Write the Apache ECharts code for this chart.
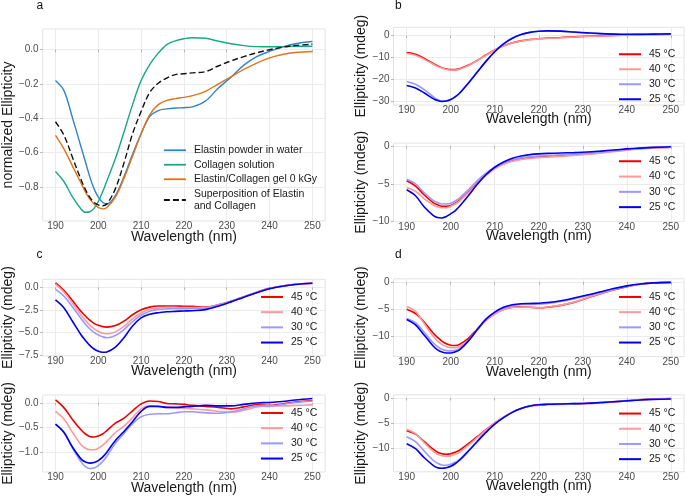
<!DOCTYPE html>
<html><head><meta charset="utf-8">
<script src="https://cdn.jsdelivr.net/npm/echarts@6/dist/echarts.min.js"></script>
<style>html,body{margin:0;padding:0;background:#fff}#c{width:685px;height:497px}</style>
</head><body><div id="c"></div><script>
// ---------------- DATA ----------------
const wavelength = [190,192,194,196,197,198,199,200,201,202,204,206,208,210,212,214,216,218,220,222,225,228,231,234,237,240,243,246,250];
const xTicks = [190,200,210,220,230,240,250];

// panel a
const aNames = ['Elastin powder in water','Collagen solution','Elastin/Collagen gel 0 kGy','Superposition of Elastin\nand Collagen'];
const aElastin  = [-0.18,-0.24,-0.40,-0.57,-0.655,-0.74,-0.81,-0.86,-0.89,-0.90,-0.85,-0.74,-0.61,-0.49,-0.39,-0.355,-0.345,-0.34,-0.338,-0.333,-0.30,-0.225,-0.16,-0.09,-0.04,-0.01,0.015,0.035,0.048];
const aCollagen = [-0.71,-0.77,-0.86,-0.93,-0.948,-0.945,-0.925,-0.885,-0.83,-0.765,-0.635,-0.48,-0.32,-0.18,-0.087,-0.02,0.03,0.052,0.064,0.07,0.067,0.05,0.035,0.024,0.018,0.017,0.018,0.02,0.02];
const aGel      = [-0.50,-0.58,-0.68,-0.78,-0.83,-0.87,-0.90,-0.92,-0.928,-0.92,-0.86,-0.75,-0.62,-0.49,-0.38,-0.32,-0.295,-0.285,-0.278,-0.268,-0.243,-0.20,-0.158,-0.115,-0.078,-0.048,-0.028,-0.016,-0.01];
const aSuper    = [-0.42,-0.50,-0.63,-0.76,-0.815,-0.86,-0.89,-0.905,-0.91,-0.90,-0.81,-0.66,-0.49,-0.36,-0.25,-0.195,-0.165,-0.145,-0.14,-0.135,-0.128,-0.095,-0.065,-0.04,-0.018,0.0,0.015,0.025,0.032];
const aYTicks = [-0.8,-0.6,-0.4,-0.2,0.0];

const tempNames = ['45 °C','40 °C','30 °C','25 °C'];

// panel b (top)
const bTop45 = [-7.8,-8.6,-10.5,-12.8,-13.8,-14.7,-15.3,-15.6,-15.6,-15.2,-13.6,-11.4,-8.9,-6.6,-4.7,-3.3,-2.4,-1.8,-1.4,-1.15,-0.85,-0.55,-0.3,-0.1,0.1,0.3,0.45,0.55,0.65];
const bTop40 = [-8.2,-9.0,-10.9,-13.1,-14.1,-14.9,-15.5,-15.8,-15.8,-15.4,-13.8,-11.5,-9.0,-6.7,-4.8,-3.4,-2.5,-1.9,-1.5,-1.25,-0.95,-0.65,-0.4,-0.2,0.0,0.2,0.4,0.5,0.6];
const bTop30 = [-21.0,-22.3,-24.8,-28.0,-29.3,-30.0,-30.0,-29.3,-28.1,-26.4,-21.8,-16.8,-11.8,-7.4,-3.8,-1.2,0.5,1.5,2.0,2.2,2.0,1.6,1.2,0.9,0.65,0.55,0.6,0.7,0.8];
const bTop25 = [-22.9,-24.0,-26.3,-28.9,-29.8,-30.2,-30.0,-29.3,-28.1,-26.4,-21.8,-16.8,-11.8,-7.4,-3.8,-1.2,0.5,1.5,2.0,2.2,2.05,1.65,1.25,0.9,0.7,0.6,0.6,0.7,0.8];
const bTopYTicks = [-30,-20,-10,0];

// panel b (bottom)
const bBot45 = [-4.6,-5.3,-6.5,-7.5,-7.8,-8.0,-8.0,-7.9,-7.6,-7.2,-6.1,-4.9,-3.8,-2.9,-2.3,-1.9,-1.65,-1.5,-1.4,-1.32,-1.22,-1.1,-0.98,-0.82,-0.62,-0.45,-0.3,-0.2,-0.12];
const bBot40 = [-5.5,-6.0,-7.0,-7.8,-8.1,-8.2,-8.2,-8.0,-7.7,-7.3,-6.2,-5.0,-3.9,-3.0,-2.4,-2.0,-1.78,-1.62,-1.52,-1.45,-1.35,-1.22,-1.1,-0.92,-0.72,-0.52,-0.36,-0.25,-0.16];
const bBot30 = [-4.4,-5.0,-6.2,-7.2,-7.5,-7.7,-7.7,-7.6,-7.3,-6.9,-5.8,-4.6,-3.6,-2.8,-2.2,-1.8,-1.55,-1.4,-1.3,-1.24,-1.15,-1.05,-0.95,-0.8,-0.6,-0.42,-0.28,-0.16,-0.06];
const bBot25 = [-5.8,-6.6,-8.1,-9.2,-9.5,-9.55,-9.35,-9.0,-8.6,-8.0,-6.6,-5.1,-3.8,-2.8,-2.1,-1.6,-1.3,-1.12,-1.02,-0.96,-0.9,-0.85,-0.78,-0.65,-0.5,-0.36,-0.25,-0.15,-0.08];
const bBotYTicks = [-10,-5,0];

// panel c (top)
const cTop45 = [0.5,-0.35,-1.5,-2.7,-3.2,-3.65,-4.0,-4.22,-4.37,-4.42,-4.25,-3.75,-3.05,-2.5,-2.2,-2.08,-2.07,-2.08,-2.1,-2.12,-2.2,-1.95,-1.55,-1.05,-0.55,-0.12,0.15,0.33,0.45];
const cTop40 = [0.35,-0.55,-1.8,-3.1,-3.7,-4.2,-4.6,-4.9,-5.1,-5.15,-4.95,-4.35,-3.5,-2.85,-2.45,-2.3,-2.25,-2.25,-2.25,-2.25,-2.25,-1.98,-1.57,-1.07,-0.57,-0.14,0.13,0.32,0.44];
const cTop30 = [-0.2,-1.0,-2.2,-3.5,-4.1,-4.6,-5.0,-5.3,-5.5,-5.6,-5.35,-4.7,-3.8,-3.1,-2.65,-2.45,-2.4,-2.38,-2.37,-2.36,-2.32,-2.0,-1.58,-1.08,-0.58,-0.15,0.12,0.31,0.44];
const cTop25 = [-1.4,-2.3,-3.8,-5.3,-5.9,-6.45,-6.85,-7.1,-7.22,-7.18,-6.65,-5.6,-4.3,-3.4,-3.0,-2.82,-2.72,-2.67,-2.63,-2.6,-2.48,-2.1,-1.62,-1.1,-0.6,-0.16,0.12,0.31,0.44];
const cTopYTicks = [-7.5,-5.0,-2.5,0.0];

// panel c (bottom)
const cBot45 = [0.06,-0.1,-0.34,-0.55,-0.63,-0.68,-0.69,-0.67,-0.63,-0.56,-0.41,-0.31,-0.16,-0.02,0.04,0.03,-0.01,-0.02,-0.03,-0.05,-0.07,-0.09,-0.12,-0.08,-0.04,-0.05,-0.02,0.02,0.05];
const cBot40 = [-0.17,-0.33,-0.6,-0.85,-0.92,-0.95,-0.95,-0.92,-0.86,-0.78,-0.6,-0.47,-0.3,-0.12,-0.06,-0.07,-0.09,-0.1,-0.11,-0.12,-0.14,-0.17,-0.19,-0.15,-0.08,-0.06,-0.06,-0.05,-0.04];
const cBot30 = [-0.43,-0.6,-0.92,-1.2,-1.29,-1.33,-1.32,-1.27,-1.19,-1.08,-0.82,-0.62,-0.42,-0.28,-0.23,-0.22,-0.22,-0.2,-0.18,-0.18,-0.2,-0.21,-0.18,-0.12,-0.06,-0.07,-0.03,0.01,0.04];
const cBot25 = [-0.43,-0.6,-0.9,-1.14,-1.2,-1.22,-1.21,-1.17,-1.1,-1.0,-0.76,-0.58,-0.38,-0.17,-0.07,-0.07,-0.09,-0.09,-0.08,-0.07,-0.05,-0.06,-0.06,-0.03,0.0,0.01,0.03,0.06,0.09];
const cBotYTicks = [-1.0,-0.5,0.0];

// panel d (top)
const dTop45 = [-5.0,-5.8,-7.4,-9.4,-10.2,-10.9,-11.4,-11.65,-11.7,-11.5,-10.4,-8.7,-7.05,-5.85,-5.05,-4.65,-4.55,-4.65,-4.75,-4.65,-4.3,-3.75,-2.95,-2.15,-1.45,-0.85,-0.4,-0.15,-0.05];
const dTop40 = [-4.5,-5.4,-7.7,-10.0,-10.9,-11.5,-11.9,-12.1,-12.1,-11.9,-10.8,-8.9,-7.05,-5.85,-5.05,-4.7,-4.6,-4.65,-4.7,-4.6,-4.25,-3.7,-2.9,-2.1,-1.4,-0.8,-0.4,-0.15,-0.05];
const dTop30 = [-6.7,-7.5,-9.3,-11.2,-11.9,-12.4,-12.65,-12.7,-12.6,-12.3,-10.8,-8.8,-6.9,-5.65,-4.8,-4.35,-4.15,-4.12,-4.1,-3.95,-3.6,-3.1,-2.5,-1.9,-1.3,-0.8,-0.4,-0.18,-0.05];
const dTop25 = [-6.9,-7.9,-9.8,-11.8,-12.5,-12.9,-13.1,-13.1,-12.9,-12.5,-10.9,-8.8,-6.85,-5.55,-4.65,-4.2,-4.0,-3.95,-3.9,-3.78,-3.45,-2.95,-2.4,-1.8,-1.2,-0.7,-0.35,-0.15,-0.05];
const dTopYTicks = [-10,-5,0];

// panel d (bottom)
const dBot45 = [-6.5,-7.2,-8.7,-10.2,-10.8,-11.1,-11.2,-11.1,-10.8,-10.4,-9.1,-7.7,-6.3,-5.0,-3.8,-2.8,-2.1,-1.6,-1.35,-1.25,-1.2,-1.15,-1.1,-0.95,-0.8,-0.6,-0.35,-0.2,-0.1];
const dBot40 = [-6.2,-7.1,-8.9,-10.6,-11.2,-11.5,-11.6,-11.5,-11.2,-10.8,-9.4,-7.9,-6.4,-5.0,-3.8,-2.8,-2.1,-1.65,-1.45,-1.35,-1.3,-1.2,-1.1,-0.9,-0.7,-0.5,-0.3,-0.15,-0.05];
const dBot30 = [-7.7,-8.7,-10.6,-12.4,-13.0,-13.35,-13.4,-13.2,-12.8,-12.2,-10.5,-8.6,-6.8,-5.2,-3.9,-2.85,-2.1,-1.6,-1.35,-1.25,-1.18,-1.12,-1.05,-0.9,-0.75,-0.55,-0.35,-0.25,-0.2];
const dBot25 = [-9.1,-10.1,-11.9,-13.4,-13.9,-14.0,-13.9,-13.6,-13.1,-12.4,-10.6,-8.7,-6.85,-5.2,-3.9,-2.85,-2.1,-1.6,-1.35,-1.25,-1.18,-1.12,-1.05,-0.9,-0.75,-0.55,-0.38,-0.27,-0.2];
const dBotYTicks = [-10,-5,0];

// ---------------- STYLE / LAYOUT ----------------
const FONT = 'Liberation Sans, Arial, sans-serif';
const aColors = ['#2f86c8','#17a884','#e2711d','#111111'];
const tColors = ['#ee0000','#ff9999','#9999ff','#0000ee'];

const panels = [
  {key:'a', left:33.7, top:29,   width:291.5, height:192, xGap:9.5, yTicks:aYTicks, dec:1, yName:'normalized Ellipticity',
   series:[aElastin,aCollagen,aGel,aSuper], names:aNames, colors:aColors, dashed:[false,false,false,true],
   legend:{left:163, top:144, gap:2}},
  {key:'bt', left:393.5, top:27.3, width:290.5, height:77.7, xGap:7.5, yTicks:bTopYTicks, dec:0, yName:'Ellipticity (mdeg)',
   series:[bTop45,bTop40,bTop30,bTop25], names:tempNames, colors:tColors, legend:{left:618, top:48, gap:2.5}},
  {key:'bb', left:393.5, top:143.1, width:290.5, height:78.4, xGap:7.5, yTicks:bBotYTicks, dec:0, yName:'Ellipticity (mdeg)',
   series:[bBot45,bBot40,bBot30,bBot25], names:tempNames, colors:tColors, legend:{left:618, top:155, gap:2.8}},
  {key:'ct', left:33.7, top:279.3, width:291.5, height:76.5, xGap:8.5, yTicks:cTopYTicks, dec:1, yName:'Ellipticity (mdeg)',
   series:[cTop45,cTop40,cTop30,cTop25], names:tempNames, colors:tColors, legend:{left:260, top:290.7, gap:2.7}},
  {key:'cb', left:33.7, top:395, width:291.5, height:77, xGap:9, yTicks:cBotYTicks, dec:1, yName:'Ellipticity (mdeg)',
   series:[cBot45,cBot40,cBot30,cBot25], names:tempNames, colors:tColors, legend:{left:260, top:406.7, gap:2.7}},
  {key:'dt', left:393.5, top:278.8, width:290.5, height:77.8, xGap:8.5, yTicks:dTopYTicks, dec:0, yName:'Ellipticity (mdeg)',
   series:[dTop45,dTop40,dTop30,dTop25], names:tempNames, colors:tColors, legend:{left:618, top:290.7, gap:2.7}},
  {key:'db', left:393.5, top:394.8, width:290.5, height:77, xGap:7.5, yTicks:dBotYTicks, dec:0, yName:'Ellipticity (mdeg)',
   series:[dBot45,dBot40,dBot30,dBot25], names:tempNames, colors:tColors, legend:{left:618, top:407.3, gap:2.7}}
];

const grid=[], xAxis=[], yAxis=[], series=[], legend=[];
const fmt = (v,d) => { const s = Math.abs(v).toFixed(d); return (v < -1e-9 ? '\u2212' : '') + s; };

panels.forEach((p,i) => {
  grid.push({left:p.left, top:p.top, width:p.width, height:p.height, show:true,
             borderColor:'#e3e3e3', borderWidth:1, backgroundColor:'#fff', containLabel:false});
  xAxis.push({type:'value', gridIndex:i,
    min: v => v.min - 0.05*(v.max-v.min), max: v => v.max + 0.05*(v.max-v.min),
    name:'Wavelength (nm)', nameLocation:'middle', nameGap:p.xGap, nameMoveOverlap:false,
    nameTextStyle:{fontFamily:FONT, fontSize:14, color:'#1a1a1a'},
    axisLine:{show:false},
    axisTick:{show:true, length:2.5, lineStyle:{color:'#b3b3b3'}, customValues:xTicks},
    axisLabel:{customValues:xTicks, fontFamily:FONT, fontSize:10, lineHeight:10, color:'#4d4d4d', margin:0.5,
               showMinLabel:true, showMaxLabel:true},
    splitLine:{show:true, lineStyle:{color:'#ebebeb', width:1}}
  });
  yAxis.push({type:'value', gridIndex:i,
    min: v => v.min - 0.05*(v.max-v.min), max: v => v.max + 0.05*(v.max-v.min),
    name:p.yName, nameLocation:'middle', nameGap:16, nameRotate:90,
    nameTextStyle:{fontFamily:FONT, fontSize:14, color:'#1a1a1a'},
    axisLine:{show:false},
    axisTick:{show:true, length:2.5, lineStyle:{color:'#b3b3b3'}, customValues:p.yTicks},
    axisLabel:{customValues:p.yTicks, fontFamily:FONT, fontSize:10, color:'#4d4d4d', margin:4,
               showMinLabel:true, showMaxLabel:true, hideOverlap:false,
               formatter: v => fmt(v,p.dec)},
    splitLine:{show:true, lineStyle:{color:'#ebebeb', width:1}}
  });
  p.series.forEach((arr,k) => {
    series.push({type:'line', name:p.names[k], xAxisIndex:i, yAxisIndex:i,
      data: wavelength.map((w,j)=>[w,arr[j]]),
      showSymbol:false, symbol:'none', smooth:0.35, silent:true, animation:false,
      lineStyle:{color:p.colors[k], width: p.key==='a'?1.4:1.6, type: (p.dashed && p.dashed[k]) ? [6,3] : 'solid'},
      itemStyle:{color:p.colors[k]}
    });
  });
  legend.push({orient:'vertical', left:p.legend.left, top:p.legend.top, itemGap:p.legend.gap,
    itemWidth:22, itemHeight:12, padding:0, selectedMode:false,
    data:p.names.map(n=>({name:n})),
    itemStyle:{color:'rgba(0,0,0,0)', borderColor:'rgba(0,0,0,0)', borderWidth:0, opacity:0},
    lineStyle:{width: p.key==='a'?1.8:2},
    textStyle:{fontFamily:FONT, fontSize:10.5, color:'#1a1a1a', padding:[0,0,0,3], lineHeight:12.5}
  });
});

const labelStyle = {fontFamily:FONT, fontSize:12, fill:'#111'};
const chart = echarts.init(document.getElementById('c'), null, {renderer:'canvas'});
chart.setOption({
  animation:false,
  backgroundColor:'#fff',
  grid, xAxis, yAxis, series, legend,
  graphic:[
    {type:'text', left:36.5, top:0, style:Object.assign({text:'a'},labelStyle)},
    {type:'text', left:395, top:0, style:Object.assign({text:'b'},labelStyle)},
    {type:'text', left:36.5, top:249, style:Object.assign({text:'c'},labelStyle)},
    {type:'text', left:395, top:249, style:Object.assign({text:'d'},labelStyle)}
  ]
});
</script></body></html>
